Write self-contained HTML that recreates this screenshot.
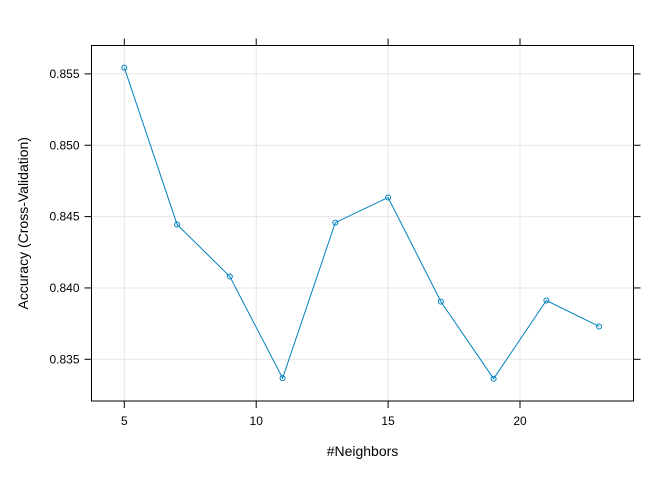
<!DOCTYPE html>
<html><head><meta charset="utf-8"><style>html,body{margin:0;padding:0;background:#fff}svg{display:block;font-family:"Liberation Sans",Arial,sans-serif}</style></head>
<body>
<svg id="chart" width="672" height="480"></svg>
<script>
const neighbors = [5,7,9,11,13,15,17,19,21,23];
const accuracy = [0.85544,0.84445,0.84080,0.83368,0.84458,0.84634,0.83904,0.83364,0.83912,0.83730];
const xTicks = [5,10,15,20];
const yTicks = [0.835,0.840,0.845,0.850,0.855];
const yTickLabels = ["0.835","0.840","0.845","0.850","0.855"];

const L=91.5,R=633.5,T=45.5,B=401;
const sx=v=>124.3+(v-5)*26.38;
const sy=v=>359.3-(v-0.835)*14270;
const NS="http://www.w3.org/2000/svg";
const svg=document.getElementById('chart');
function mk(tag,attrs,parent){const e=document.createElementNS(NS,tag);for(const k in attrs)e.setAttribute(k,attrs[k]);(parent||svg).appendChild(e);return e;}

const grid=mk('g',{});


xTicks.forEach(t=>mk('line',{x1:sx(t),x2:sx(t),y1:T,y2:B,stroke:'#e6e6e6','stroke-width':1},grid));
yTicks.forEach(t=>mk('line',{x1:L,x2:R,y1:sy(t),y2:sy(t),stroke:'#e6e6e6','stroke-width':1},grid));

const frame=mk('rect',{x:L,y:T,width:R-L,height:B-T,fill:'none',stroke:'#000','stroke-width':1});



const xa=mk('g',{});


xTicks.forEach(t=>{
  mk('line',{x1:sx(t),x2:sx(t),y1:B,y2:B+7,stroke:'#000'},xa);
  mk('line',{x1:sx(t),x2:sx(t),y1:T,y2:T-7,stroke:'#000'},xa);
  const tx=mk('text',{x:sx(t),y:B+24,'text-anchor':'middle','font-size':12,fill:'#000'},xa);
  tx.textContent=t;
});
const ya=mk('g',{});


yTicks.forEach((t,i)=>{
  mk('line',{x1:L,x2:L-7,y1:sy(t),y2:sy(t),stroke:'#000'},ya);
  mk('line',{x1:R,x2:R+7,y1:sy(t),y2:sy(t),stroke:'#000'},ya);
  const tx=mk('text',{x:L-12,y:sy(t)+4,'text-anchor':'end','font-size':12,fill:'#000'},ya);
  tx.textContent=yTickLabels[i];
});

const xt=mk('text',{x:(L+R)/2,y:456,'text-anchor':'middle','font-size':14,fill:'#000'});


xt.textContent='#Neighbors';
const yt=mk('text',{x:0,y:0,'text-anchor':'middle','font-size':14,fill:'#000',transform:`translate(28,${(T+B)/2}) rotate(-90)`});


yt.textContent='Accuracy (Cross-Validation)';

const line=mk('polyline',{points:neighbors.map((n,i)=>sx(n)+','+sy(accuracy[i])).join(' '),fill:'none',stroke:'#0080bf','stroke-width':1});


neighbors.forEach((n,i)=>{
  const c=mk('circle',{cx:sx(n),cy:sy(accuracy[i]),r:2.5,fill:'none',stroke:'#0080bf','stroke-width':1});
  
  
});
</script>
</body></html>
